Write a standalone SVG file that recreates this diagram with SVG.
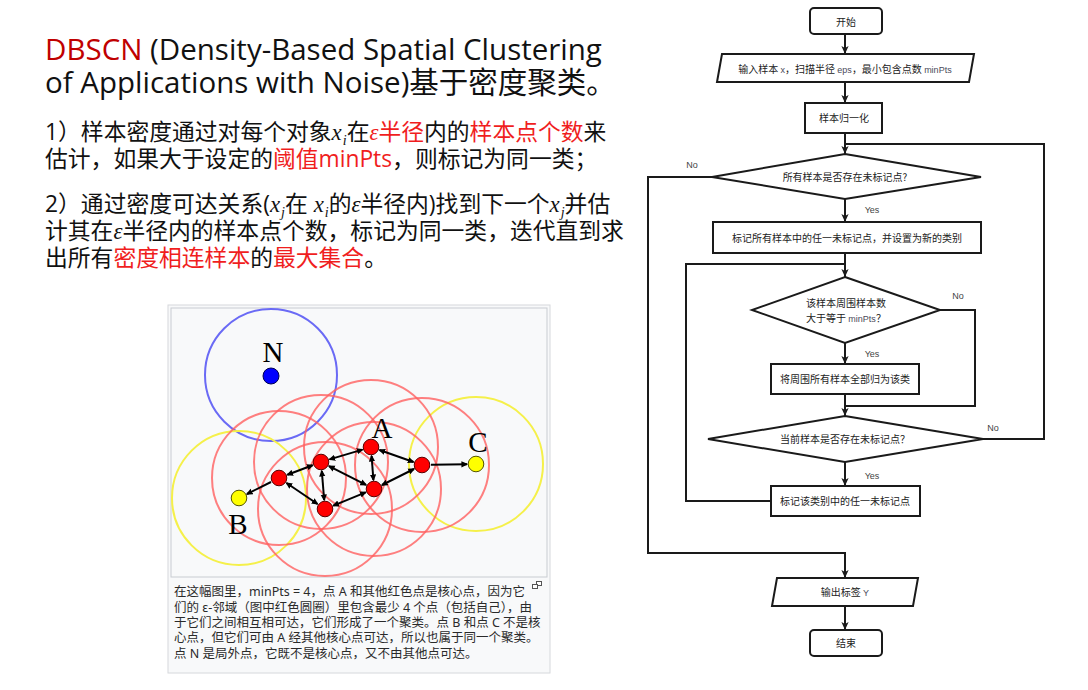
<svg xmlns="http://www.w3.org/2000/svg" width="1088" height="690" viewBox="0 0 1088 690">
<style>
.ttl{font-family:"Open Sans","Noto Sans CJK SC",sans-serif;font-size:29.5px;fill:#111}
.p{font-family:"Open Sans","Noto Sans CJK SC",sans-serif;font-size:22.8px;fill:#111}
.m{font-family:"Liberation Serif","DejaVu Serif",serif;font-style:italic}
.sub{font-size:14px}
.r{fill:#f01e1e}
.dr{fill:#c00000}
.cap{font-family:"Noto Sans","Noto Sans CJK SC",sans-serif;font-size:12.5px;fill:#2a2a2a}
.lbl{font-family:"Liberation Serif","DejaVu Serif",serif;font-size:29px;fill:#000;text-anchor:middle}
.rc{fill:none;stroke:#ff6060;stroke-opacity:0.8;stroke-width:2}
.yc{fill:none;stroke:#f5f04a;stroke-width:2}
.bc{fill:none;stroke:#6a6af5;stroke-width:2}
.core{fill:#ff0000;stroke:#5a0000;stroke-width:1}
.bord{fill:#ffff00;stroke:#555500;stroke-width:1}
.ar{stroke:#000;stroke-width:2;fill:none}
.fs{fill:#fff;stroke:#1a1a1a;stroke-width:2}
.fl{fill:none;stroke:#1a1a1a;stroke-width:2}
.ft{font-family:"Noto Sans CJK SC","Noto Sans",sans-serif;font-size:10px;fill:#222;text-anchor:middle}
.lt{font-family:"Liberation Sans","Noto Sans",sans-serif;font-size:9px;fill:#4a4a5a}
.yn{font-family:"Liberation Sans","Noto Sans",sans-serif;font-size:9px;fill:#444;text-anchor:middle}
</style>
<defs>
<marker id="ah" viewBox="0 0 10 10" refX="8" refY="5" markerWidth="7" markerHeight="7" markerUnits="userSpaceOnUse" orient="auto-start-reverse">
<path d="M0,0.5 L10,5 L0,9.5 Z" fill="#000"/>
</marker>
<marker id="fa" viewBox="0 0 10 10" refX="10" refY="5" markerWidth="8" markerHeight="8" markerUnits="userSpaceOnUse" orient="auto">
<path d="M0,0.5 L10,5 L0,9.5 L2.5,5 Z" fill="#1a1a1a"/>
</marker>
</defs>
<rect width="1088" height="690" fill="#fff"/>

<g id="title">
<text class="ttl" x="45" y="60"><tspan class="dr">DBSCN</tspan> (Density-Based Spatial Clustering</text>
<text class="ttl" x="45" y="93">of Applications with Noise)基于密度聚类。</text>
</g>

<g id="para1">
<text class="p" x="45" y="140">1）样本密度通过对每个对象<tspan class="m">x</tspan><tspan class="m sub" dx="1" dy="5">i</tspan><tspan dy="-5">在</tspan><tspan class="r"><tspan class="m">ε</tspan>半径</tspan>内的<tspan class="r">样本点个数</tspan>来</text>
<text class="p" x="45" y="167">估计，如果大于设定的<tspan class="r">阈值minPts</tspan>，则标记为同一类；</text>
</g>
<g id="para2">
<text class="p" x="45" y="212">2）通过密度可达关系(<tspan class="m">x</tspan><tspan class="m sub" dx="1" dy="5">j</tspan><tspan dy="-5">在 </tspan><tspan class="m">x</tspan><tspan class="m sub" dx="1" dy="5">i</tspan><tspan dy="-5">的</tspan><tspan class="m">ε</tspan>半径内)找到下一个<tspan class="m">x</tspan><tspan class="m sub" dx="1" dy="5">j</tspan><tspan dy="-5">并估</tspan></text>
<text class="p" x="45" y="239">计其在<tspan class="m">ε</tspan>半径内的样本点个数，标记为同一类，迭代直到求</text>
<text class="p" x="45" y="266">出所有<tspan class="r">密度相连样本</tspan>的<tspan class="r">最大集合</tspan>。</text>
</g>

<g id="figure">
<rect x="168" y="305" width="382" height="368" fill="#f8f9fa" stroke="#d6d8dc" stroke-width="1"/>
<rect x="171" y="308" width="376" height="269" fill="#f8f9fa" stroke="#c8ccd1" stroke-width="1"/>
<circle class="bc" cx="271" cy="375" r="66"/>
<circle class="yc" cx="239" cy="498" r="67"/>
<circle class="yc" cx="476" cy="464" r="67"/>
<circle class="rc" cx="371" cy="447" r="67"/>
<circle class="rc" cx="321" cy="462" r="67"/>
<circle class="rc" cx="279" cy="478" r="67"/>
<circle class="rc" cx="325" cy="509" r="67"/>
<circle class="rc" cx="374" cy="489" r="67"/>
<circle class="rc" cx="422" cy="465" r="67"/>
<g id="fig-arrows">
<line class="ar" x1="362.4" y1="449.6" x2="329.6" y2="459.4" marker-start="url(#ah)" marker-end="url(#ah)"/>
<line class="ar" x1="371.6" y1="456" x2="373.4" y2="480" marker-start="url(#ah)" marker-end="url(#ah)"/>
<line class="ar" x1="379.5" y1="450" x2="413.5" y2="462" marker-start="url(#ah)" marker-end="url(#ah)"/>
<line class="ar" x1="312.6" y1="465.2" x2="287.4" y2="474.8" marker-start="url(#ah)" marker-end="url(#ah)"/>
<line class="ar" x1="321.8" y1="471" x2="324.2" y2="500" marker-start="url(#ah)" marker-end="url(#ah)"/>
<line class="ar" x1="329" y1="466.1" x2="366" y2="484.9" marker-start="url(#ah)" marker-end="url(#ah)"/>
<line class="ar" x1="286.5" y1="483" x2="317.5" y2="504" marker-start="url(#ah)" marker-end="url(#ah)"/>
<line class="ar" x1="333.3" y1="505.6" x2="365.7" y2="492.4" marker-start="url(#ah)" marker-end="url(#ah)"/>
<line class="ar" x1="382" y1="485" x2="414" y2="469" marker-start="url(#ah)" marker-end="url(#ah)"/>
<line class="ar" x1="271" y1="482" x2="247" y2="494" marker-end="url(#ah)"/>
<line class="ar" x1="431" y1="464.8" x2="467" y2="464.2" marker-end="url(#ah)"/>
</g>
<circle cx="271" cy="376" r="8" fill="#0000ff" stroke="#000050" stroke-width="1"/>
<circle class="core" cx="371" cy="447" r="7.8"/>
<circle class="core" cx="321" cy="462" r="7.8"/>
<circle class="core" cx="279" cy="478" r="7.8"/>
<circle class="core" cx="325" cy="509" r="7.8"/>
<circle class="core" cx="374" cy="489" r="7.8"/>
<circle class="core" cx="422" cy="465" r="7.8"/>
<circle class="bord" cx="239" cy="498" r="7.8"/>
<circle class="bord" cx="476" cy="464" r="7.8"/>
<text class="lbl" x="273" y="362">N</text>
<text class="lbl" x="382" y="438">A</text>
<text class="lbl" x="238" y="534">B</text>
<text class="lbl" x="478" y="452">C</text>
<g id="expand-icon" fill="#fff" stroke="#555" stroke-width="1">
<rect x="536.5" y="581.5" width="5" height="4"/>
<rect x="532.5" y="584.5" width="5" height="4"/>
</g>
<text class="cap" x="174" y="596">在这幅图里，minPts = 4，点 A 和其他红色点是核心点，因为它</text>
<text class="cap" x="174" y="612">们的 ε-邻域（图中红色圆圈）里包含最少 4 个点（包括自己），由</text>
<text class="cap" x="174" y="627">于它们之间相互相可达，它们形成了一个聚类。点 B 和点 C 不是核</text>
<text class="cap" x="174" y="642">心点，但它们可由 A 经其他核心点可达，所以也属于同一个聚类。</text>
<text class="cap" x="174" y="658">点 N 是局外点，它既不是核心点，又不由其他点可达。</text>
</g>

<g id="connectors">
<line class="fl" x1="845" y1="34" x2="845" y2="54" marker-end="url(#fa)"/>
<line class="fl" x1="845" y1="82" x2="845" y2="103" marker-end="url(#fa)"/>
<line class="fl" x1="845" y1="133" x2="845" y2="154" marker-end="url(#fa)"/>
<polyline class="fl" points="983,439 1044,439 1044,144 845,144"/>
<polyline class="fl" points="712,177 648,177 648,553 845,553 845,578" marker-end="url(#fa)"/>
<line class="fl" x1="845" y1="199" x2="845" y2="222" marker-end="url(#fa)"/>
<line class="fl" x1="845" y1="253" x2="845" y2="277" marker-end="url(#fa)"/>
<polyline class="fl" points="771,501 686,501 686,264 845,264"/>
<line class="fl" x1="845" y1="343" x2="845" y2="364" marker-end="url(#fa)"/>
<polyline class="fl" points="940,310 975,310 975,406 845,406"/>
<line class="fl" x1="845" y1="394" x2="845" y2="416" marker-end="url(#fa)"/>
<line class="fl" x1="845" y1="462" x2="845" y2="486" marker-end="url(#fa)"/>
<line class="fl" x1="845" y1="606" x2="845" y2="630" marker-end="url(#fa)"/>
<text class="yn" x="692" y="168">No</text>
<text class="yn" x="872" y="213">Yes</text>
<text class="yn" x="958" y="299">No</text>
<text class="yn" x="872" y="357">Yes</text>
<text class="yn" x="993" y="431">No</text>
<text class="yn" x="872" y="479">Yes</text>
</g>

<g id="start">
<rect class="fs" x="810" y="8" width="72" height="26" rx="4"/>
<text class="ft" x="846" y="26">开始</text>
</g>
<g id="input">
<polygon class="fs" points="722,54 974,54 969,82 717,82"/>
<text class="ft" x="845" y="73">输入样本 <tspan class="lt">x</tspan>，扫描半径 <tspan class="lt">eps</tspan>，最小包含点数 <tspan class="lt">minPts</tspan></text>
</g>
<g id="normalize">
<rect class="fs" x="805" y="103" width="77" height="30"/>
<text class="ft" x="844" y="122">样本归一化</text>
</g>
<g id="decision1">
<polygon class="fs" points="845,154 981,177 845,199 712,177"/>
<text class="ft" x="845" y="181">所有样本是否存在未标记点?</text>
</g>
<g id="mark-new">
<rect class="fs" x="713" y="222" width="268" height="31"/>
<text class="ft" x="847" y="242">标记所有样本中的任一未标记点，并设置为新的类别</text>
</g>
<g id="decision2">
<polygon class="fs" points="845,277 940,310 845,343 752,310"/>
<text class="ft" x="846" y="307">该样本周围样本数</text>
<text class="ft" x="846" y="322">大于等于 <tspan class="lt">minPts</tspan>？</text>
</g>
<g id="assign">
<rect class="fs" x="771" y="364" width="148" height="30"/>
<text class="ft" x="845" y="383">将周围所有样本全部归为该类</text>
</g>
<g id="decision3">
<polygon class="fs" points="845,416 983,439 845,462 708,439"/>
<text class="ft" x="845" y="443">当前样本是否存在未标记点？</text>
</g>
<g id="mark-class">
<rect class="fs" x="771" y="486" width="149" height="30"/>
<text class="ft" x="845" y="505">标记该类别中的任一未标记点</text>
</g>
<g id="output">
<polygon class="fs" points="777,578 918,578 913,606 772,606"/>
<text class="ft" x="845" y="596">输出标签 <tspan class="lt">Y</tspan></text>
</g>
<g id="end">
<rect class="fs" x="810" y="630" width="72" height="26" rx="4"/>
<text class="ft" x="846" y="647">结束</text>
</g>
</svg>
